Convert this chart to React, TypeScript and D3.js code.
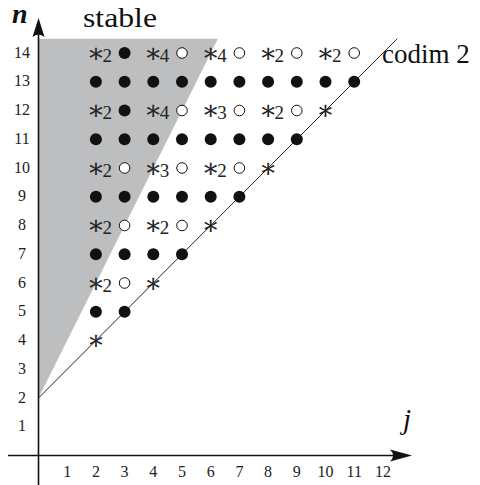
import React from "react";
import * as d3 from "d3";

// Tick labels
const xTicks = [1, 2, 3, 4, 5, 6, 7, 8, 9, 10, 11, 12];
const yTicks = [1, 2, 3, 4, 5, 6, 7, 8, 9, 10, 11, 12, 13, 14];

// Filled dots [j, n]
const filledPoints: [number, number][] = [
  [2, 5], [3, 5],
  [2, 7], [3, 7], [4, 7], [5, 7],
  [2, 9], [3, 9], [4, 9], [5, 9], [6, 9], [7, 9],
  [2, 11], [3, 11], [4, 11], [5, 11], [6, 11], [7, 11], [8, 11], [9, 11],
  [2, 13], [3, 13], [4, 13], [5, 13], [6, 13], [7, 13], [8, 13], [9, 13], [10, 13], [11, 13],
  [3, 12], [3, 14],
];

// Open circles [j, n]
const openPoints: [number, number][] = [
  [3, 6],
  [3, 8], [5, 8],
  [3, 10], [5, 10], [7, 10],
  [5, 12], [7, 12], [9, 12],
  [5, 14], [7, 14], [9, 14], [11, 14],
];

// Stars [j, n, multiplicity label]
const starPoints: [number, number, string][] = [
  [2, 4, ""],
  [2, 6, "2"], [4, 6, ""],
  [2, 8, "2"], [4, 8, "2"], [6, 8, ""],
  [2, 10, "2"], [4, 10, "3"], [6, 10, "2"], [8, 10, ""],
  [2, 12, "2"], [4, 12, "4"], [6, 12, "3"], [8, 12, "2"], [10, 12, ""],
  [2, 14, "2"], [4, 14, "4"], [6, 14, "4"], [8, 14, "2"], [10, 14, "2"],
];

// Stable region and codim 2 line (data coords)
const stableRegion: [number, number][] = [[0, 2], [0, 14.5], [6.25, 14.5]];
const codimLine: [number, number][] = [[0, 2], [12.5, 14.5]];

const W = 480;
const H = 485;

const SERIF = "Liberation Serif";

export default function App() {
  const x = d3.scaleLinear().domain([0, 12]).range([38.5, 38.5 + 28.7 * 12]);
  const y = d3.scaleLinear().domain([0, 14]).range([455.5, 455.5 - 28.75 * 14]);
  const line = d3.line<[number, number]>().x((d) => x(d[0])).y((d) => y(d[1]));

  const ax = x(0);
  const ay = y(0);
  const starFs = 27;
  const serifStyle = { fontFamily: SERIF };

  return (
    <svg
      width={W}
      height={H}
      style={{ position: "absolute", left: 0, top: 0, background: "#fff" }}
    >
      <rect x={0} y={0} width={W} height={H} fill="#fff" />
      {/* stable region */}
      <path d={line(stableRegion) + "Z"} fill="#bdbec0" stroke="none" />
      {/* codim 2 line */}
      <path d={line(codimLine) || ""} fill="none" stroke="#222" strokeWidth={1} />

      {/* axes */}
      <line x1={ax} y1={H} x2={ax} y2={30} stroke="#111" strokeWidth={1.6} />
      <path d={`M${ax},18 L${ax + 6},37 Q${ax},32 ${ax - 6},37 Z`} fill="#111" />
      <line x1={8} y1={ay} x2={400} y2={ay} stroke="#111" strokeWidth={1.6} />
      <path d={`M412,${ay} L390,${ay - 6} Q396,${ay} 390,${ay + 6} Z`} fill="#111" />

      {/* tick labels */}
      {xTicks.map((t) => (
        <text key={"x" + t} x={x(t)} y={477} fontSize={16} textAnchor="middle" fill="#222" style={serifStyle}>
          {t}
        </text>
      ))}
      {yTicks.map((t) => (
        <text key={"y" + t} x={22} y={y(t) + 4.5} fontSize={16} textAnchor="middle" fill="#222" style={serifStyle}>
          {t}
        </text>
      ))}

      {/* axis labels */}
      <text x={12} y={23} fontSize={28} fontStyle="italic" fontWeight="bold" fill="#111" style={serifStyle}>n</text>
      <text x={403} y={429} fontSize={29} fontStyle="italic" fill="#111" style={serifStyle}>j</text>
      <text x={83} y={27} fontSize={27} fill="#111" textLength={74} lengthAdjust="spacingAndGlyphs" style={serifStyle}>
        stable
      </text>
      <text x={382} y={63} fontSize={27} fill="#111" style={serifStyle}>codim 2</text>

      {/* filled dots */}
      {filledPoints.map((p, i) => (
        <circle key={"f" + i} cx={x(p[0])} cy={y(p[1])} r={6} fill="#111" />
      ))}
      {/* open circles */}
      {openPoints.map((p, i) => (
        <circle key={"o" + i} cx={x(p[0])} cy={y(p[1])} r={5.3} fill="#fff" stroke="#111" strokeWidth={1} />
      ))}
      {/* stars with multiplicity */}
      {starPoints.map((p, i) => (
        <text key={"s" + i} fill="#222">
          <tspan
            x={x(p[0])}
            y={y(p[1]) + starFs * 0.33}
            fontSize={starFs}
            textAnchor="middle"
            style={{ fontFamily: "DejaVu Serif" }}
          >
            ∗
          </tspan>
          {p[2] && (
            <tspan x={x(p[0]) + 6.5} y={y(p[1]) + 8.5} fontSize={19} textAnchor="start" style={serifStyle}>
              {p[2]}
            </tspan>
          )}
        </text>
      ))}
    </svg>
  );
}
